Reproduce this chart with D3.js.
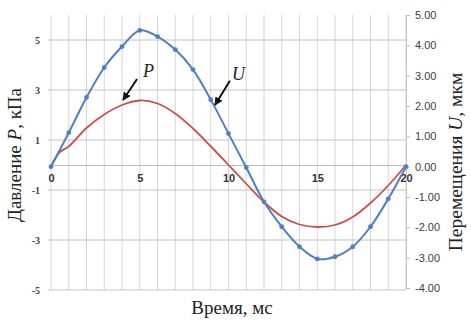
<!DOCTYPE html>
<html>
<head>
<meta charset="utf-8">
<script src="https://cdn.jsdelivr.net/npm/d3@7"></script>
<style>
  html, body { margin: 0; padding: 0; background: #fff; }
  svg { display: block; }
</style>
</head>
<body>
<svg id="chart" width="471" height="323"></svg>
<script>
// Time grid, ms
const timeTicks = [0, 5, 10, 15, 20];
const gridTimes = d3.range(0, 21, 1);

// Pressure P, kPa (left axis)
const pressureTime = [0, 0.5, 1, 2, 3, 4, 5, 6, 7, 8, 9, 10, 11, 12, 13, 14, 15, 16, 17, 18, 19, 20];
const pressureValues = [-0.05, 0.52, 0.74, 1.48, 2.02, 2.4, 2.58, 2.46, 2.06, 1.46, 0.75, 0.0, -0.75, -1.48, -2.06, -2.38, -2.48, -2.4, -2.08, -1.52, -0.82, 0.0];

// Displacement U, µm (right axis)
const dispTime = d3.range(0, 21, 1);
const dispValues = [0, 1.12, 2.28, 3.27, 3.96, 4.49, 4.29, 3.86, 3.2, 2.21, 1.09, -0.03, -1.16, -1.98, -2.64, -3.04, -2.97, -2.64, -1.98, -1.06, 0];

const leftTicks = [-5, -3, -1, 1, 3, 5];
const rightTicks = [-4, -3, -2, -1, 0, 1, 2, 3, 4, 5];

const svg = d3.select("#chart");

const x = d3.scaleLinear().domain([0, 20]).range([51, 406]);
const yL = d3.scaleLinear().domain([-5, 6]).range([290, 15]);
const yR = d3.scaleLinear().domain([-4, 5]).range([288, 15]);

// Grid
const grid = svg.append("g");
grid.selectAll("line.v").data(gridTimes).join("line")
  .attr("x1", d => x(d)).attr("x2", d => x(d))
  .attr("y1", yR(5)).attr("y2", yL(-5))
  .attr("stroke", "#d6d6d6").attr("stroke-width", 1);
grid.selectAll("line.h").data(leftTicks).join("line")
  .attr("x1", x(0) - 3).attr("x2", x(20))
  .attr("y1", d => yL(d)).attr("y2", d => yL(d))
  .attr("stroke", "#c4c4c4").attr("stroke-width", 1);

// Time axis through zero pressure
const xAxis = svg.append("g")
  .attr("transform", `translate(0,${yL(0)})`)
  .call(d3.axisBottom(x).tickValues(timeTicks).tickSize(0).tickPadding(9).tickFormat(d3.format("d")));
xAxis.select(".domain").attr("stroke", "#bdbdbd");
xAxis.selectAll("text")
  .attr("font-family", "Liberation Sans, Arial, sans-serif")
  .attr("font-weight", "bold").attr("font-size", 11).attr("fill", "#333");

// Left axis: pressure
const leftAxis = svg.append("g")
  .attr("transform", `translate(${x(0)},0)`)
  .call(d3.axisLeft(yL).tickValues(leftTicks).tickSize(0).tickPadding(11).tickFormat(d => String(d)));
leftAxis.select(".domain").remove();
leftAxis.selectAll("text")
  .attr("font-family", "Liberation Serif, Times New Roman, serif")
  .attr("font-weight", "bold").attr("font-size", 10).attr("fill", "#444");

// Right axis: displacement
const rightAxis = svg.append("g")
  .attr("transform", `translate(${x(20)},0)`)
  .call(d3.axisRight(yR).tickValues(rightTicks).tickSize(4).tickPadding(5).tickFormat(d => d.toFixed(2)));
rightAxis.select(".domain").attr("stroke", "#c4c4c4");
rightAxis.selectAll(".tick line").attr("stroke", "#bdbdbd");
rightAxis.selectAll("text")
  .attr("font-family", "Liberation Sans, Arial, sans-serif")
  .attr("font-size", 11).attr("fill", "#404040");

// Curves
const pLine = d3.line().curve(d3.curveCatmullRom.alpha(0.5))
  .x((d, i) => x(pressureTime[i])).y(d => yL(d));
svg.append("path").datum(pressureValues)
  .attr("d", pLine).attr("fill", "none")
  .attr("stroke", "#c8504c").attr("stroke-width", 1.8);

const uLine = d3.line().curve(d3.curveCatmullRom.alpha(0.5))
  .x((d, i) => x(dispTime[i])).y(d => yR(d));
svg.append("path").datum(dispValues)
  .attr("d", uLine).attr("fill", "none")
  .attr("stroke", "#4f81c2").attr("stroke-width", 2);
svg.selectAll("circle.u").data(dispValues).join("circle")
  .attr("cx", (d, i) => x(dispTime[i])).attr("cy", d => yR(d))
  .attr("r", 2.4).attr("fill", "#4f81c2");

// Arrow annotations
svg.append("defs").append("marker")
  .attr("id", "head").attr("viewBox", "0 0 10 10")
  .attr("refX", 9).attr("refY", 5)
  .attr("markerWidth", 4.2).attr("markerHeight", 4.2)
  .attr("orient", "auto")
  .append("path").attr("d", "M0,0 L10,5 L0,10 Z").attr("fill", "#111");

const notes = [
  { label: "P", from: [4.85, 3.44], to: [4.06, 2.6], text: [5.18, 3.52], y: yL },
  { label: "U", from: [10.08, 2.83], to: [9.24, 2.03], text: [10.2, 2.86], y: yR }
];
notes.forEach(n => {
  svg.append("line")
    .attr("x1", x(n.from[0])).attr("y1", n.y(n.from[1]))
    .attr("x2", x(n.to[0])).attr("y2", n.y(n.to[1]))
    .attr("stroke", "#111").attr("stroke-width", 2)
    .attr("marker-end", "url(#head)");
  svg.append("text")
    .attr("x", x(n.text[0])).attr("y", n.y(n.text[1]))
    .attr("font-family", "Liberation Serif, Times New Roman, serif")
    .attr("font-style", "italic").attr("font-size", 18).attr("fill", "#222")
    .text(n.label);
});

// Axis titles
const serif = "Liberation Serif, Times New Roman, serif";
const lt = svg.append("text")
  .attr("transform", "translate(21,155) rotate(-90)")
  .attr("text-anchor", "middle")
  .attr("font-family", serif).attr("font-size", 19).attr("fill", "#222");
lt.append("tspan").text("Давление ");
lt.append("tspan").attr("font-style", "italic").text("P");
lt.append("tspan").text(", кПа");

const rt = svg.append("text")
  .attr("transform", "translate(462,162) rotate(-90)")
  .attr("text-anchor", "middle")
  .attr("font-family", serif).attr("font-size", 19.5).attr("fill", "#222");
rt.append("tspan").text("Перемещения ");
rt.append("tspan").attr("font-style", "italic").text("U");
rt.append("tspan").text(", мкм");

svg.append("text")
  .attr("x", 232).attr("y", 314)
  .attr("text-anchor", "middle")
  .attr("font-family", serif).attr("font-size", 19).attr("fill", "#222")
  .text("Время, мс");
</script>
</body>
</html>
